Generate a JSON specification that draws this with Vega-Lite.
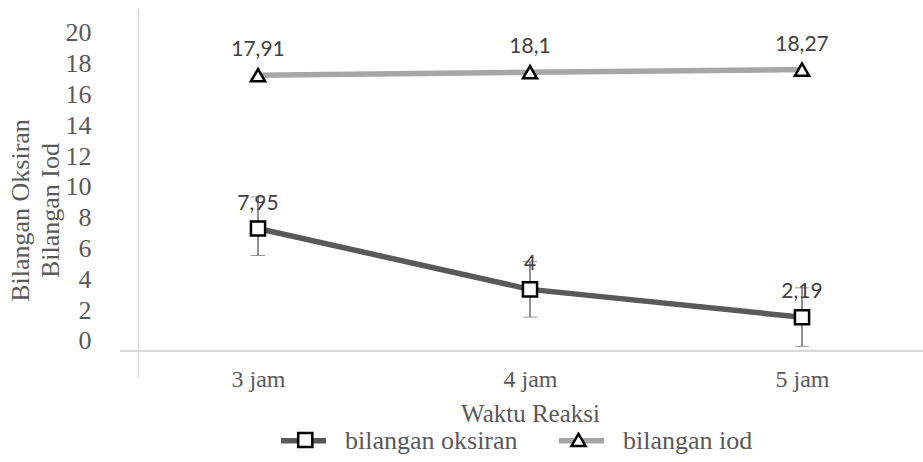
{
  "$schema": "https://vega.github.io/schema/vega-lite/v6.json",
  "width": 803,
  "height": 369,
  "autosize": {"type": "none"},
  "padding": {"left": 120, "top": 8, "right": 0, "bottom": 85},
  "background": "white",
  "config": {
    "view": {"stroke": null},
    "font": "Liberation Serif",
    "axisY": {
      "offset": -18, "ticks": false, "grid": false, "labelOverlap": false,
      "labelExpr": "datum.value > 21 ? '' : datum.label",
      "domainColor": "#d9d9d9", "domainWidth": 1.5,
      "labelFont": "Liberation Serif", "labelFontSize": 26, "labelColor": "#595959",
      "labelPadding": 47, "labelOffset": -10,
      "titleFont": "Liberation Serif", "titleFontSize": 26, "titleFontWeight": "normal", "titleColor": "#595959",
      "titleLineHeight": 30, "titleBaseline": "middle", "titleAngle": -90, "titleX": -118, "titleY": 202
    },
    "axisX": {
      "offset": -23, "ticks": false, "grid": false, "domain": false, "labelAngle": 0,
      "labelFont": "Liberation Serif", "labelFontSize": 24, "labelColor": "#595959", "labelPadding": 13,
      "titleFont": "Liberation Serif", "titleFontSize": 25, "titleFontWeight": "normal", "titleColor": "#595959",
      "titleBaseline": "middle", "titleY": 59
    }
  },
  "data": {
    "values": [
      {"waktu": "3 jam", "series": "bilangan oksiran", "penanda": "oksiran", "nilai": 7.95, "label": "7,95", "lo": 6.2, "hi": 10.0},
      {"waktu": "4 jam", "series": "bilangan oksiran", "penanda": "oksiran", "nilai": 4, "label": "4", "lo": 2.2, "hi": 5.8},
      {"waktu": "5 jam", "series": "bilangan oksiran", "penanda": "oksiran", "nilai": 2.19, "label": "2,19", "lo": 0.3, "hi": 4.1},
      {"waktu": "3 jam", "series": "bilangan iod", "penanda": "iod", "nilai": 17.91, "label": "17,91"},
      {"waktu": "4 jam", "series": "bilangan iod", "penanda": "iod", "nilai": 18.1, "label": "18,1"},
      {"waktu": "5 jam", "series": "bilangan iod", "penanda": "iod", "nilai": 18.27, "label": "18,27"}
    ]
  },
  "layer": [
    {
      "mark": {"type": "line", "strokeWidth": 5.5},
      "encoding": {
        "x": {"field": "waktu", "type": "ordinal", "title": "Waktu Reaksi", "scale": {"type": "point", "range": [138, 682], "padding": 0}},
        "y": {
          "field": "nilai", "type": "quantitative", "title": ["Bilangan Oksiran", "Bilangan Iod"],
          "scale": {"domain": [-1.69, 22.27], "nice": false, "zero": false}
        },
        "color": {
          "field": "series", "type": "nominal",
          "scale": {"domain": ["bilangan oksiran", "bilangan iod"], "range": ["#595959", "#a6a6a6"]},
          "legend": {
            "title": null, "orient": "none", "legendX": 158, "legendY": 407, "direction": "horizontal",
            "symbolType": "stroke", "symbolSize": 2025, "symbolStrokeWidth": 5.5,
            "labelFont": "Liberation Serif", "labelFontSize": 26, "labelColor": "#595959", "labelLimit": 400,
            "labelOffset": 16, "columnPadding": 30
          }
        }
      }
    },
    {
      "mark": {"type": "rule", "color": "#d9d9d9", "strokeWidth": 1.5},
      "encoding": {
        "y": {"datum": 0, "type": "quantitative", "title": ["Bilangan Oksiran", "Bilangan Iod"], "scale": {"domain": [-1.69, 22.27], "nice": false, "zero": false}}
      }
    },
    {
      "transform": [{"filter": "datum.lo != null"}],
      "mark": {"type": "errorbar", "ticks": {"size": 14, "color": "#6b6b6b", "strokeWidth": 1.5}, "rule": {"color": "#6b6b6b", "strokeWidth": 1.5}},
      "encoding": {
        "x": {"field": "waktu", "type": "ordinal", "title": "Waktu Reaksi", "scale": {"type": "point", "range": [138, 682], "padding": 0}},
        "y": {"field": "lo", "type": "quantitative", "title": ["Bilangan Oksiran", "Bilangan Iod"], "scale": {"domain": [-1.69, 22.27], "nice": false, "zero": false}},
        "y2": {"field": "hi"}
      }
    },
    {
      "mark": {"type": "point", "filled": true, "fill": "white", "stroke": "black", "strokeWidth": 2.5, "opacity": 1, "size": 200},
      "encoding": {
        "x": {"field": "waktu", "type": "ordinal", "title": "Waktu Reaksi", "scale": {"type": "point", "range": [138, 682], "padding": 0}},
        "y": {"field": "nilai", "type": "quantitative", "title": ["Bilangan Oksiran", "Bilangan Iod"], "scale": {"domain": [-1.69, 22.27], "nice": false, "zero": false}},
        "shape": {
          "field": "penanda", "type": "nominal",
          "scale": {"domain": ["oksiran", "iod"], "range": ["square", "triangle-up"]},
          "legend": {
            "title": null, "orient": "none", "legendX": 172.25, "legendY": 419, "direction": "horizontal",
            "labelExpr": "datum.label == 'oksiran' ? 'bilangan oksiran' : 'bilangan iod'",
            "symbolSize": 200, "symbolStrokeWidth": 2.5, "symbolOpacity": 1,
            "labelFont": "Liberation Serif", "labelFontSize": 26, "labelColor": "#595959", "labelOpacity": 0, "labelLimit": 400,
            "labelOffset": 30.25, "columnPadding": 44.25,
            "encode": {
              "symbols": {
                "update": {
                  "fill": {"value": "white"},
                  "stroke": {"value": "black"},
                  "strokeWidth": {"value": 2.5},
                  "opacity": {"value": 1}
                }
              }
            }
          }
        }
      }
    },
    {
      "mark": {"type": "text", "dy": -25, "font": "Lato", "fontSize": 21, "color": "#404040"},
      "encoding": {
        "x": {"field": "waktu", "type": "ordinal", "title": "Waktu Reaksi", "scale": {"type": "point", "range": [138, 682], "padding": 0}},
        "y": {"field": "nilai", "type": "quantitative", "title": ["Bilangan Oksiran", "Bilangan Iod"], "scale": {"domain": [-1.69, 22.27], "nice": false, "zero": false}},
        "text": {"field": "label"}
      }
    }
  ]
}
